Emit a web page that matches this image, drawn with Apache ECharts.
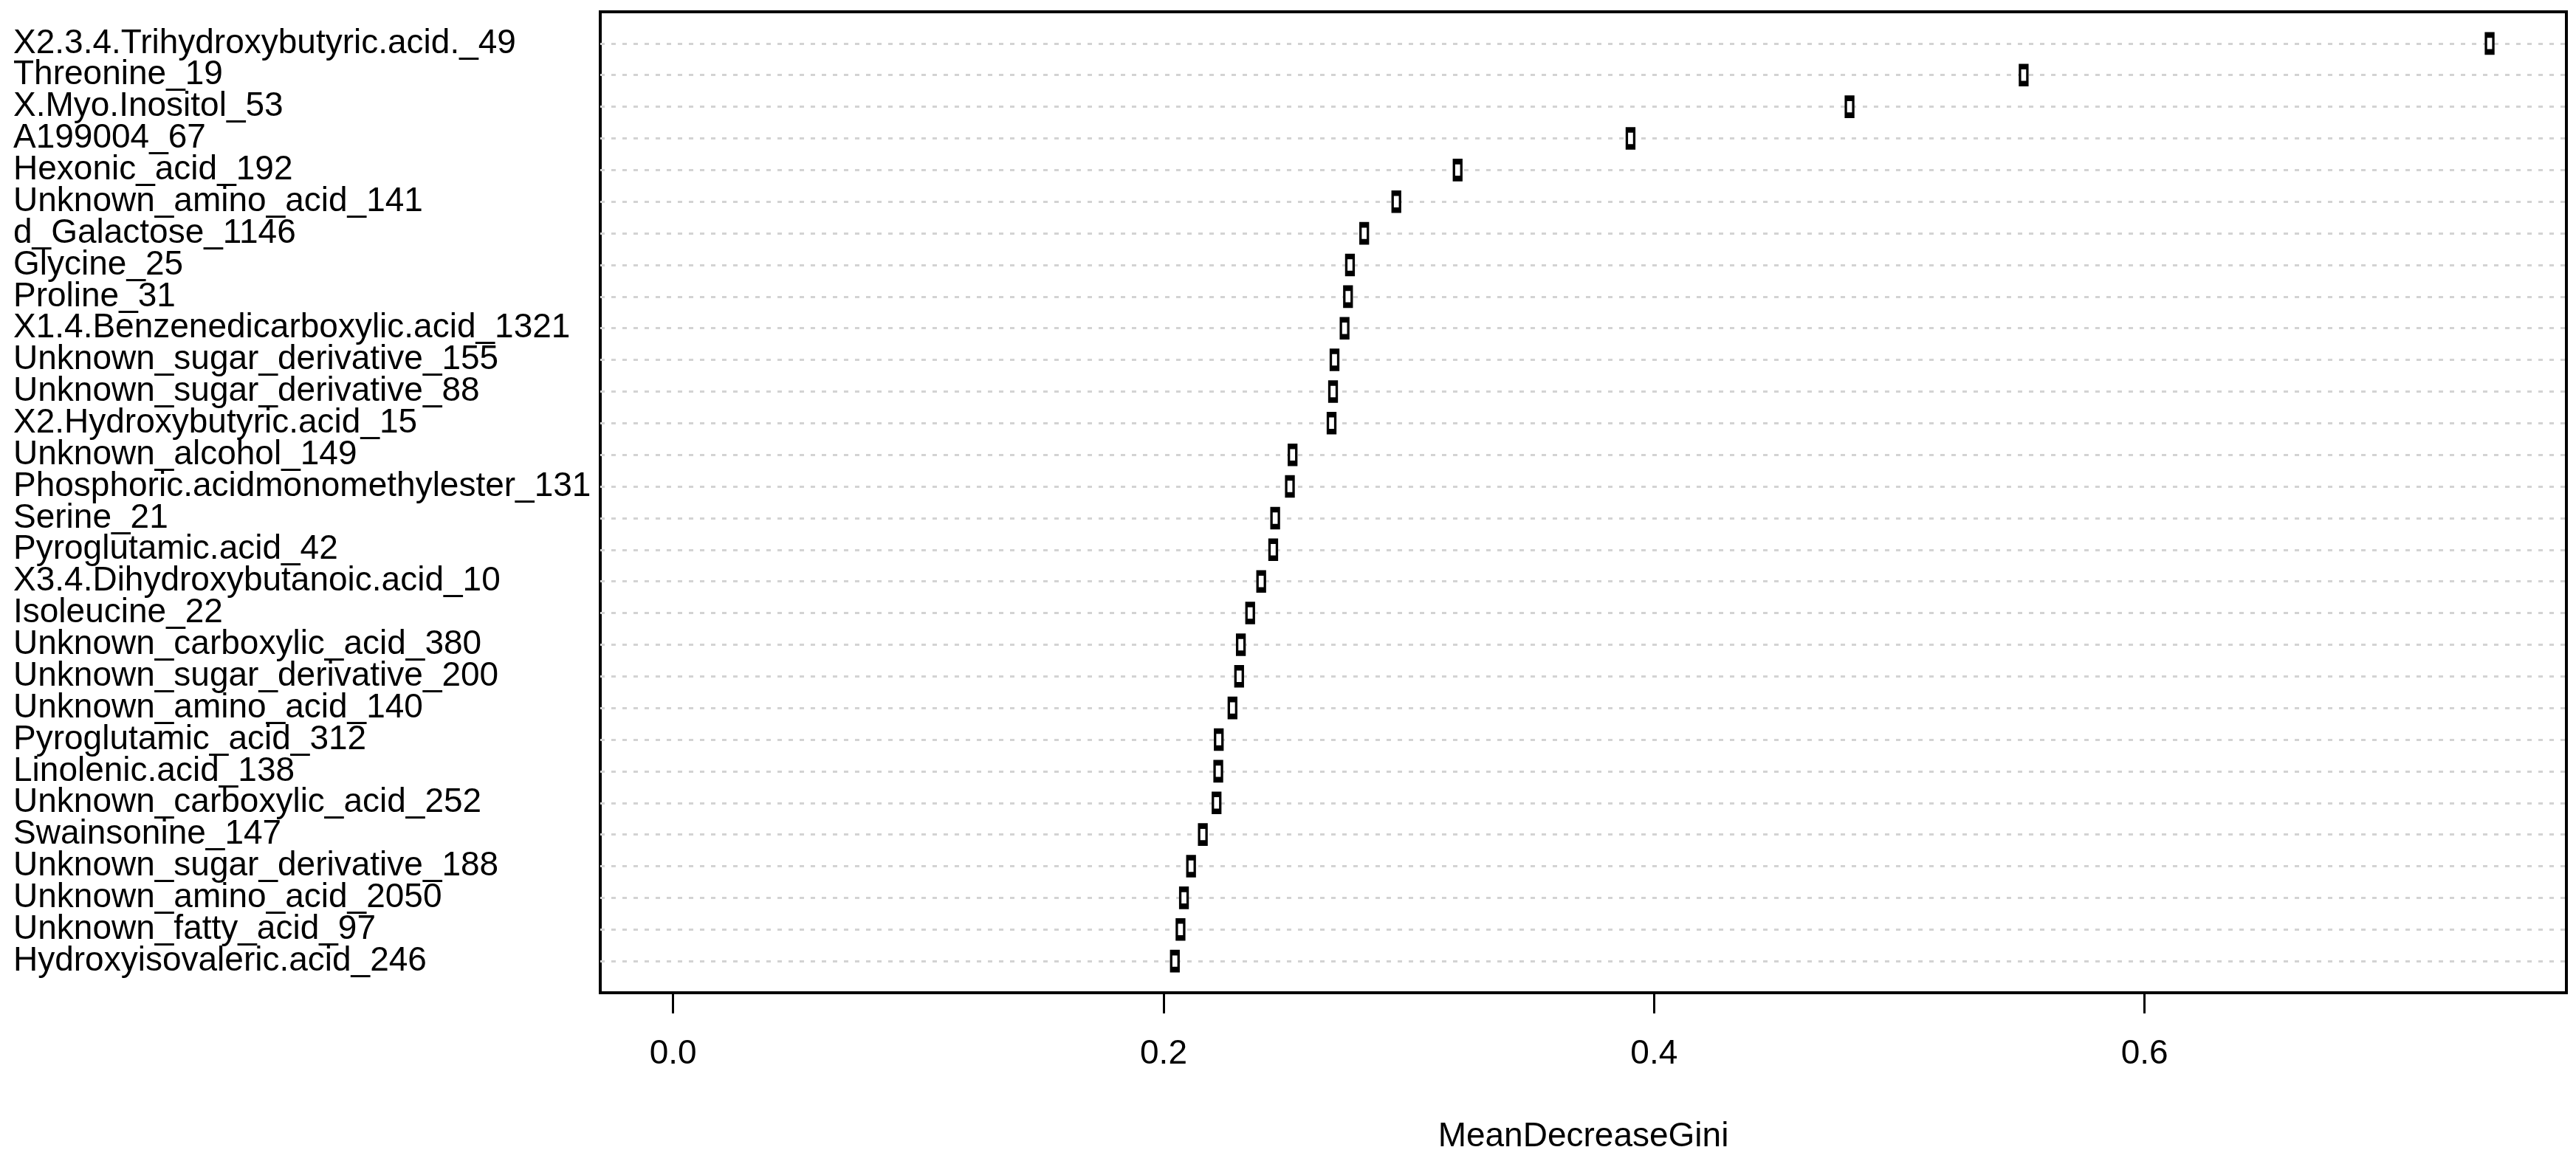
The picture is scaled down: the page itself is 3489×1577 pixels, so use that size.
<!DOCTYPE html>
<html>
<head>
<meta charset="utf-8">
<script src="https://cdn.jsdelivr.net/npm/echarts@6/dist/echarts.min.js"></script>
<style>
html,body{margin:0;padding:0;background:#fff;}
#chart{width:3489px;height:1577px;}
</style>
</head>
<body>
<div id="chart"></div>
<script>
// Variables, top to bottom as shown in the chart
const variables = [
  "X2.3.4.Trihydroxybutyric.acid._49",
  "Threonine_19",
  "X.Myo.Inositol_53",
  "A199004_67",
  "Hexonic_acid_192",
  "Unknown_amino_acid_141",
  "d_Galactose_1146",
  "Glycine_25",
  "Proline_31",
  "X1.4.Benzenedicarboxylic.acid_1321",
  "Unknown_sugar_derivative_155",
  "Unknown_sugar_derivative_88",
  "X2.Hydroxybutyric.acid_15",
  "Unknown_alcohol_149",
  "Phosphoric.acidmonomethylester_131",
  "Serine_21",
  "Pyroglutamic.acid_42",
  "X3.4.Dihydroxybutanoic.acid_10",
  "Isoleucine_22",
  "Unknown_carboxylic_acid_380",
  "Unknown_sugar_derivative_200",
  "Unknown_amino_acid_140",
  "Pyroglutamic_acid_312",
  "Linolenic.acid_138",
  "Unknown_carboxylic_acid_252",
  "Swainsonine_147",
  "Unknown_sugar_derivative_188",
  "Unknown_amino_acid_2050",
  "Unknown_fatty_acid_97",
  "Hydroxyisovaleric.acid_246"
];
const meanDecreaseGini = [
  0.7407, 0.5507, 0.4797, 0.3904, 0.3199,
  0.2949, 0.2818, 0.2760, 0.2752, 0.2738,
  0.2697, 0.2691, 0.2685, 0.2526, 0.2515,
  0.2455, 0.2447, 0.2398, 0.2353, 0.2315,
  0.2308, 0.2281, 0.2225, 0.2223, 0.2216,
  0.2160, 0.2112, 0.2083, 0.2069, 0.2046
];
const xTicks = [0.0, 0.2, 0.4, 0.6];
const xTitle = "MeanDecreaseGini";

const n = variables.length;
const positions = variables.map((_, i) => n - i);
const points = meanDecreaseGini.map((v, i) => [v, positions[i]]);
const labelByPos = {};
positions.forEach((p, i) => { labelByPos[p] = variables[i]; });

const FONT = "'Liberation Sans', Arial, Helvetica, sans-serif";

const chart = echarts.init(document.getElementById('chart'), null, {renderer: 'canvas'});
chart.setOption({
  animation: false,
  backgroundColor: '#ffffff',
  grid: {
    left: 813, right: 13, top: 16, bottom: 232,
    show: true, borderColor: '#000', borderWidth: 4, backgroundColor: 'transparent'
  },
  xAxis: {
    type: 'value',
    min: -0.0297, max: 0.772,
    axisLine: {show: false},
    splitLine: {show: false},
    axisTick: {show: true, customValues: xTicks, length: 28, lineStyle: {color: '#000', width: 3}},
    axisLabel: {
      customValues: xTicks,
      formatter: v => Number(v).toFixed(1),
      fontFamily: FONT, fontSize: 46, color: '#000', margin: 60
    },
    name: xTitle,
    nameLocation: 'middle',
    nameGap: 172,
    nameTextStyle: {fontFamily: FONT, fontSize: 46, color: '#000'}
  },
  yAxis: {
    type: 'value',
    min: 0, max: n + 1, interval: 1,
    axisLine: {show: false},
    axisTick: {show: false},
    splitLine: {
      show: true, showMinLine: false, showMaxLine: false,
      lineStyle: {color: '#d3d3d3', width: 3, type: [6, 9]}
    },
    axisLabel: {
      formatter: v => labelByPos[Math.round(v)] || '',
      showMinLabel: true,
      showMaxLabel: true,
      hideOverlap: false,
      align: 'left',
      margin: 795,
      fontFamily: FONT, fontSize: 46, color: '#000'
    }
  },
  series: [{
    type: 'scatter',
    data: points,
    symbol: 'rect',
    symbolSize: [10, 23],
    itemStyle: {color: '#ffffff', borderColor: '#000000', borderWidth: 5, opacity: 1},
    emphasis: {disabled: true},
    silent: true,
    z: 5
  }]
});
</script>
</body>
</html>
